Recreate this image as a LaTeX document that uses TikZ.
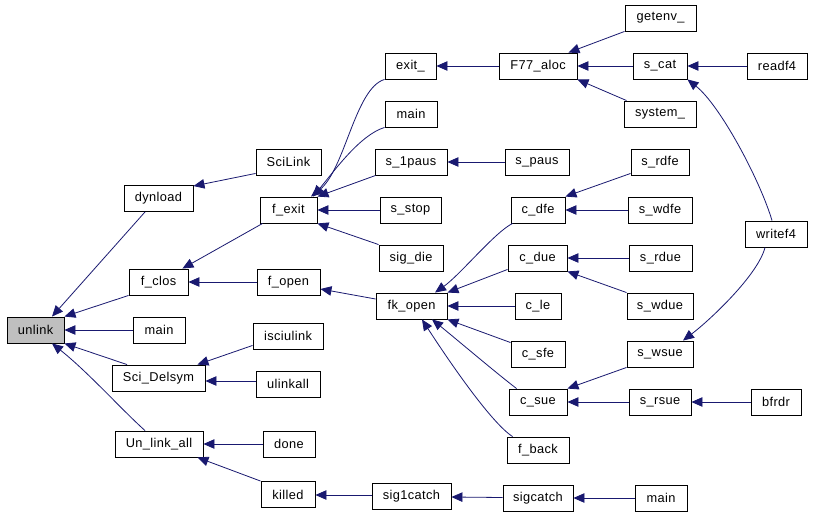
\documentclass[tikz,border=0pt]{standalone}
\usepackage{fontspec}
\setmainfont[LetterSpace=3]{Liberation Sans}
\usetikzlibrary{arrows.meta}
\definecolor{edgeblue}{HTML}{191970}
\definecolor{rootgray}{HTML}{BFBFBF}
\begin{document}
\begin{tikzpicture}[x=1pt,y=-1pt,
  box/.style={draw=black,line width=0.9pt,fill=white,minimum height=26pt,inner sep=0pt,
    font=\fontsize{12.8}{14}\selectfont},
  edge/.style={draw=edgeblue,line width=0.8pt,-{Triangle[length=11pt,width=9.5pt]}}]
\useasboundingbox (0,0) rectangle (813,514);
\fill[white] (0,0) rectangle (813,514);
% column 1
\node[box,fill=rootgray,minimum width=57pt] (unlink) at (35.5,330) {unlink};
% column 2
\node[box,minimum width=69pt] (dynload) at (158.5,198.5) {dynload};
\node[box,minimum width=59pt] (fclos) at (158.5,282) {f\_clos};
\node[box,minimum width=52pt] (mainA) at (159,330) {main};
\node[box,minimum width=93pt] (scidelsym) at (158.5,378) {Sci\_Delsym};
\node[box,minimum width=88pt] (unlinkall) at (159,444) {Un\_link\_all};
% column 3
\node[box,minimum width=65pt] (scilink) at (288.5,162) {SciLink};
\node[box,minimum width=57pt] (fexit) at (288.5,210) {f\_exit};
\node[box,minimum width=63pt] (fopen) at (288.5,282) {f\_open};
\node[box,minimum width=70pt] (isciulink) at (288,336) {isciulink};
\node[box,minimum width=64pt] (ulinkall) at (288,384) {ulinkall};
\node[box,minimum width=52pt] (done) at (289,444) {done};
\node[box,minimum width=54pt] (killed) at (288,494.5) {killed};
% column 4
\node[box,minimum width=51pt] (exit) at (410.5,66) {exit\_};
\node[box,minimum width=52pt] (mainB) at (411,114) {main};
\node[box,minimum width=72pt] (sonepaus) at (411,162) {s\_1paus};
\node[box,minimum width=61pt] (sstop) at (410.5,210) {s\_stop};
\node[box,minimum width=64pt] (sigdie) at (411,258) {sig\_die};
\node[box,minimum width=71pt] (fkopen) at (411.5,306) {fk\_open};
\node[box,minimum width=79pt] (sigonecatch) at (411.5,496.5) {sig1catch};
% column 5
\node[box,minimum width=78pt] (faloc) at (538,66) {F77\_aloc};
\node[box,minimum width=64pt] (spaus) at (537,162) {s\_paus};
\node[box,minimum width=54pt] (cdfe) at (538,210) {c\_dfe};
\node[box,minimum width=59pt] (cdue) at (537.5,258) {c\_due};
\node[box,minimum width=46pt] (cle) at (538,306) {c\_le};
\node[box,minimum width=54pt] (csfe) at (538,354) {c\_sfe};
\node[box,minimum width=58pt] (csue) at (538,402) {c\_sue};
\node[box,minimum width=62pt] (fback) at (538,450) {f\_back};
\node[box,minimum width=70pt] (sigcatch) at (538,498) {sigcatch};
% column 6
\node[box,minimum width=71pt] (getenv) at (660.5,18) {getenv\_};
\node[box,minimum width=54pt] (scat) at (660,66) {s\_cat};
\node[box,minimum width=72pt] (system) at (660,114) {system\_};
\node[box,minimum width=58pt] (srdfe) at (660,162) {s\_rdfe};
\node[box,minimum width=64pt] (swdfe) at (660,210) {s\_wdfe};
\node[box,minimum width=63pt] (srdue) at (660.5,258) {s\_rdue};
\node[box,minimum width=66pt] (swdue) at (660,306) {s\_wdue};
\node[box,minimum width=66pt] (swsue) at (660,354) {s\_wsue};
\node[box,minimum width=62pt] (srsue) at (660,402) {s\_rsue};
\node[box,minimum width=52pt] (mainC) at (661,498) {main};
% column 7
\node[box,minimum width=60pt] (readf) at (777,66) {readf4};
\node[box,minimum width=62pt] (writef) at (776,234) {writef4};
\node[box,minimum width=50pt] (bfrdr) at (776,402) {bfrdr};
% edges into unlink
\draw[edge] ([xshift=-13.5pt]dynload.south) -- ([xshift=16.5pt]unlink.north);
\draw[edge] (fclos.south west) -- (unlink.north east);
\draw[edge] (mainA.west) -- (unlink.east);
\draw[edge] ([xshift=-31.5pt]scidelsym.north) -- (unlink.south east);
\draw[edge] ([xshift=-14pt]unlinkall.north) .. controls (122,410) and (88,372) .. ([xshift=16.5pt]unlink.south);
% column 3 -> column 2
\draw[edge] ([yshift=2pt]scilink.south west) -- ([yshift=-1pt]dynload.north east);
\draw[edge] ([xshift=3pt]fexit.south west) -- ([xshift=-6pt]fclos.north east);
\draw[edge] (fopen.west) -- (fclos.east);
\draw[edge] ([yshift=4pt]isciulink.south west) -- ([xshift=-8pt]scidelsym.north east);
\draw[edge] ([yshift=3pt]ulinkall.west) -- ([yshift=-3pt]scidelsym.east);
\draw[edge] (done.west) -- (unlinkall.east);
\draw[edge] (killed.north west) -- ([xshift=-6pt]unlinkall.south east);
% column 4 -> column 3
\draw[edge] ([yshift=1.5pt]sigonecatch.west) -- ([yshift=-0.5pt]killed.east);
\draw[edge] (exit.south west) .. controls (355,88) and (345,170) .. ([xshift=22.5pt]fexit.north);
\draw[edge] (mainB.south west) .. controls (360,135) and (335,170) .. ([xshift=24.5pt]fexit.north);
\draw[edge] ([xshift=1pt]sonepaus.south west) -- (fexit.north east);
\draw[edge] (sstop.west) -- (fexit.east);
\draw[edge] (sigdie.north west) -- (fexit.south east);
\draw[edge] ([yshift=7pt]fkopen.west) -- ([yshift=-7pt]fopen.east);
% column 5 -> column 4
\draw[edge] (faloc.west) -- (exit.east);
\draw[edge] (spaus.west) -- (sonepaus.east);
\draw[edge] ([xshift=2pt]cdfe.south west) .. controls (495,232) and (460,275) .. ([xshift=23.5pt]fkopen.north);
\draw[edge] ([yshift=2pt]cdue.south west) -- (fkopen.north east);
\draw[edge] (cle.west) -- (fkopen.east);
\draw[edge] ([yshift=-2pt]csfe.north west) -- (fkopen.south east);
\draw[edge] ([xshift=8pt]csue.north west) .. controls (495,372) and (455,338) .. ([xshift=20.5pt]fkopen.south);
\draw[edge] ([xshift=6pt]fback.north west) .. controls (490,422) and (445,355) .. ([xshift=10.5pt]fkopen.south);
\draw[edge] ([yshift=0.5pt]sigcatch.west) -- ([yshift=-0.5pt]sigonecatch.east);
% column 6 -> column 5
\draw[edge] (getenv.south west) -- ([xshift=-9pt]faloc.north east);
\draw[edge] (scat.west) -- (faloc.east);
\draw[edge] ([xshift=3pt]system.north west) -- (faloc.south east);
\draw[edge] ([yshift=2pt]srdfe.south west) -- (cdfe.north east);
\draw[edge] (swdfe.west) -- (cdfe.east);
\draw[edge] (srdue.west) -- (cdue.east);
\draw[edge] (swdue.north west) -- (cdue.south east);
\draw[edge] (swsue.south west) -- (csue.north east);
\draw[edge] (srsue.west) -- (csue.east);
\draw[edge] (mainC.west) -- (sigcatch.east);
% column 7 -> column 6
\draw[edge] (readf.west) -- (scat.east);
\draw[edge] ([xshift=-4pt]writef.north) .. controls (760,180) and (720,105) .. (scat.south east);
\draw[edge] ([xshift=-11pt]writef.south) .. controls (758,275) and (710,320) .. ([xshift=23pt]swsue.north);
\draw[edge] (bfrdr.west) -- (srsue.east);
\end{tikzpicture}
\end{document}
